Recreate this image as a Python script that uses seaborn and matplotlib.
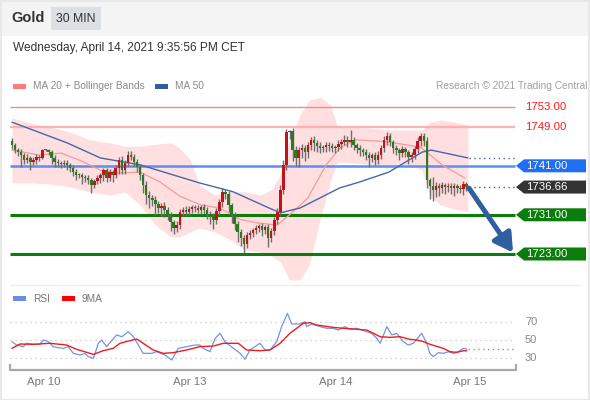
import numpy as np
import pandas as pd
import matplotlib
matplotlib.use("Agg")
import matplotlib.pyplot as plt
import seaborn as sns
from matplotlib.patches import Polygon, Rectangle

# ---------------- data ----------------
first_open = 1746.0
closes = [
    1745.2, 1744.2, 1743.8, 1743.2, 1742.2, 1742.6, 1741.8, 1742.2, 1742.8, 1742.6,
    1744.2, 1744.2, 1743.8, 1742.6, 1741.8, 1741.6, 1741.4, 1741.6, 1741.2, 1740.6,
    1739.7, 1739.1, 1739.1, 1738.7, 1738.5, 1738.1, 1737.1, 1737.9, 1738.5, 1739.1,
    1740.1, 1738.6, 1739.7, 1739.1, 1740.5, 1742.2, 1740.1, 1741.6, 1743.2, 1742.8,
    1741.8, 1740.8, 1739.1, 1737.1, 1735.0, 1734.4, 1734.0, 1733.2, 1732.4, 1732.8,
    1732.0, 1731.0, 1729.5, 1728.3, 1728.9, 1731.6, 1732.0, 1731.6, 1732.2, 1732.6,
    1732.4, 1732.0, 1732.6, 1732.0, 1731.2, 1730.8, 1730.0, 1731.8, 1733.6, 1735.6,
    1735.2, 1733.0, 1731.0, 1729.2, 1727.5, 1726.2, 1725.0, 1726.9, 1727.3, 1727.9,
    1728.3, 1728.7, 1727.9, 1728.5, 1726.3, 1727.6, 1729.9, 1731.6, 1736.1, 1741.2,
    1747.9, 1748.0, 1744.2, 1742.6, 1744.2, 1744.6, 1743.8, 1745.2, 1746.3, 1745.6,
    1745.0, 1744.6, 1744.8, 1745.2, 1745.0, 1744.6, 1744.8, 1745.4, 1745.9, 1746.3,
    1745.8, 1746.3, 1745.2, 1744.6, 1744.2, 1743.8, 1743.2, 1742.6, 1743.2, 1742.2,
    1743.2, 1744.6, 1746.3, 1747.0, 1745.8, 1744.6, 1744.2, 1743.6, 1744.4, 1743.8,
    1742.8, 1743.2, 1744.4, 1746.0, 1747.0, 1746.0, 1738.0, 1736.8, 1736.1, 1736.8,
    1736.4, 1737.0, 1736.6, 1736.9, 1736.4, 1736.9, 1736.5, 1736.2, 1737.3, 1736.66]
wick_hi = [
    .6, .5, .4, .6, .5, .8, .4, .5, .6, .4,
    .2, .2, .3, .4, .6, .5, .4, .6, .5, .4,
    .5, .6, .4, .5, .4, .6, .4, .5, .6, .5,
    .5, .4, .6, .5, .7, .5, .8, .6, .8, .9,
    .6, .5, .6, .5, .7, .8, .6, .9, .7, .6,
    .8, .5, .6, .5, .9, .6, .5, .7, .5, .4,
    .5, .6, .4, .6, .5, .5, .6, .5, .7, .8,
    .7, .6, .5, .6, .5, .6, .7, .5, .6, .5,
    .6, .5, .7, .5, .6, .7, .6, .8, .9, 1.0,
    .6, .4, .8, .9, .7, .8, .6, .7, .6, .8,
    .6, .8, .5, .7, .6, .7, .5, .8, .6, .9,
    .7, 2.0, .6, .5, .6, .5, .7, .6, .5, .6,
    .8, .7, .8, .9, .6, .5, .6, .5, .6, .5,
    .5, .6, .7, .8, .6, .6, .8, .6, 2.0, .8,
    .6, .7, .5, .6, .5, .6, .4, .6, .5, .4]
wick_lo = [
    .8, .6, .8, 2.4, .8, .6, 1.6, .7, .8, .6,
    .2, .2, .5, 1.2, 1.0, .8, .9, .7, 1.0, .8,
    .8, 1.0, .6, 1.4, .8, .9, 1.6, .7, .6, 1.0,
    1.2, .9, .8, 1.4, .6, 1.2, .8, .7, .6, .7,
    .8, 1.0, .9, 1.6, 1.8, 2.0, 1.2, 2.2, 1.0, 1.6,
    1.4, 1.0, 1.8, 1.2, .8, .9, .8, .9, .8, .9,
    .8, .7, .8, .9, 1.0, 1.6, 1.8, .9, .8, 1.0,
    1.0, 1.4, 1.6, 1.4, 2.0, 1.6, 1.8, .8, .9, .8,
    .9, .8, 1.2, .9, 1.8, .8, .8, .7, .6, .8,
    1.0, 1.5, 2.2, 1.6, 1.8, 1.6, 1.9, 1.2, 1.0, 1.6,
    1.2, 1.0, .8, .9, 1.0, .8, .9, .8, 1.0, .7,
    1.0, .9, 1.0, .9, 1.2, .8, 1.0, 1.8, .9, 1.1,
    .9, .8, .7, 1.0, .8, 1.0, .9, 1.4, .8, 1.0,
    1.4, 1.0, .9, .8, .9, 1.0, 1.6, 2.6, 2.2, 1.4,
    1.6, 1.0, 1.4, .9, 1.2, 1.6, 1.0, .8, 1.2, .8]

ma20_t = [0, 9, 16, 22, 29, 35, 42, 48.5, 55, 62, 68, 75, 81, 87, 91, 97, 103, 107.5, 112.5, 123, 134, 141, 148.5]
ma20_v = [1744.2, 1743.2, 1743.6, 1742.2, 1740.1, 1739.5, 1739.7, 1737.7, 1734.8, 1733.0, 1732.4, 1730.0,
          1729.3, 1728.9, 1731.0, 1734.4, 1741.2, 1744.6, 1746.3, 1745.9, 1744.8, 1741.2, 1738.5]

ma50_t = [0, 18, 29, 42, 61.5, 72.5, 83.5, 88, 94.5, 107.5, 114, 123.5, 134.5, 137.5, 149.5]
ma50_v = [1749.9, 1745.7, 1742.6, 1741.2, 1737.5, 1735.7, 1732.6, 1731.4, 1732.4, 1736.5, 1737.7,
          1739.7, 1743.8, 1744.2, 1742.6]

bb_t = [0, 6, 12.5, 19, 25.5, 32, 37, 42, 47, 52, 55, 58.5, 61.5, 66.5, 71.5, 76.5, 81.5, 85, 88,
        91, 94.5, 97.5, 101, 104.5, 106.5, 109, 117.5, 124, 130.5, 134.5, 137, 140.5, 145, 149.5]
bb_up = [1750.8, 1749.7, 1748.9, 1747.9, 1746.3, 1745.7, 1745.0, 1745.0, 1745.4, 1745.7, 1744.6,
         1742.2, 1737.1, 1735.0, 1735.7, 1735.7, 1735.0, 1736.1, 1739.1, 1746.3, 1751.4, 1754.4,
         1755.0, 1753.4, 1749.3, 1748.9, 1748.7, 1748.3, 1748.3, 1748.3, 1749.9, 1750.3, 1749.9, 1749.3]
bb_lo = [1737.5, 1737.5, 1737.3, 1736.7, 1735.7, 1735.0, 1735.7, 1733.0, 1728.9, 1726.5, 1726.5,
         1727.5, 1728.3, 1727.5, 1725.9, 1723.8, 1723.4, 1722.6, 1721.4, 1717.7, 1717.7, 1720.8,
         1729.9, 1738.1, 1741.6, 1741.8, 1741.2, 1741.2, 1741.2, 1740.1, 1735.0, 1733.0, 1732.2, 1731.6]

rsi_t = [0, 1.5, 3.7, 4.8, 7.0, 9.2, 10.3, 11.9, 13.5, 15.2, 16.8, 18.5, 20.1, 22.3, 23.9, 25.0,
         26.7, 28.3, 29.4, 31.0, 34.3, 36.0, 38.1, 39.8, 43.0, 45.8, 47.4, 50.2, 52.4, 54.5, 57.3,
         60.0, 61.6, 62.7, 64.9, 66.6, 68.2, 69.8, 72.6, 74.8, 76.4, 78.0, 81.3, 83.0, 84.6, 86.8,
         88.4, 90.3, 91.7, 94.4, 96.1, 96.6, 98.3, 101.0, 103.2, 105.3, 107.0, 109.2, 110.8, 113.0,
         114.7, 116.3, 117.9, 119.6, 120.7, 122.9, 124.5, 126.1, 128.3, 129.9, 131.6, 134.3, 136.0,
         137.0, 138.1, 139.8, 141.4, 143.1, 144.7, 146.3, 148.0, 149.1]
rsi_v = [48.2, 44.5, 42.7, 46.4, 45.3, 45.3, 50.0, 48.2, 42.7, 41.6, 40.9, 42.7, 35.4, 33.6, 35.4,
         31.8, 30.0, 46.4, 50.0, 42.7, 55.5, 53.6, 59.1, 53.6, 35.4, 35.4, 37.2, 33.6, 28.1, 40.9,
         42.7, 44.5, 44.5, 40.9, 37.2, 51.8, 57.3, 48.2, 40.9, 35.4, 28.9, 39.1, 46.4, 39.1, 39.1,
         48.2, 64.6, 79.1, 67.5, 67.5, 70.0, 64.6, 67.5, 64.6, 62.8, 62.8, 60.9, 64.6, 61.7, 62.8,
         60.9, 59.1, 57.3, 51.8, 46.4, 64.6, 55.5, 57.3, 48.2, 44.5, 46.4, 57.3, 46.4, 35.4, 31.8,
         36.2, 35.4, 37.2, 35.4, 37.2, 40.9, 40.2]
ma9_t = [0, 2.6, 7.0, 12.5, 17.9, 21.2, 26.7, 29.9, 33.2, 35.4, 38.7, 40.9, 43.0, 46.3, 49.6, 52.9,
         57.3, 61.6, 66.0, 69.3, 74.2, 76.9, 81.3, 84.6, 87.9, 91.1, 95.5, 97.7, 99.9, 105.3, 108.6,
         113.0, 116.3, 118.5, 120.7, 123.9, 127.2, 130.5, 132.7, 134.9, 137.0, 141.4, 143.6, 145.8,
         148.0, 149.1]
ma9_v = [40.9, 45.6, 45.3, 46.4, 44.5, 39.8, 34.3, 38.3, 40.9, 46.4, 49.3, 51.1, 46.4, 39.1, 35.4,
         36.2, 39.1, 42.7, 43.4, 46.4, 46.4, 39.1, 38.3, 39.1, 46.4, 57.3, 68.2, 68.9, 66.4, 63.8,
         62.8, 61.7, 60.9, 57.3, 53.6, 52.9, 53.6, 50.7, 50.0, 48.2, 45.3, 40.9, 37.2, 36.5, 38.3, 38.3]

resist_levels = [1753.00, 1749.00]
pivot_level = 1741.00
support_levels = [1731.00, 1723.00]
last_price = 1736.66
target_price = 1723.00
date_ticks_t = [10.5, 58.4, 106.2, 150.2]
date_ticks_lbl = ["Apr 10", "Apr 13", "Apr 14", "Apr 15"]
rsi_levels = [70, 50, 30]

# ---------------- style ----------------
sns.set_theme(style="white")
plt.rcParams["font.family"] = ["Liberation Sans", "DejaVu Sans"]

W, H = 590, 400
fig = plt.figure(figsize=(W / 100, H / 100), dpi=100)
fig.patch.set_facecolor("white")


def X(px):      # pixel column -> candle index
    return (px - 12) / 3.05


def P(py):      # pixel row -> price
    return 1753 - (py - 107) / 4.9


def R(py):      # pixel row -> RSI value
    return 50 - (py - 340) / 0.915


def fbox(x0, y0, x1, y1):
    return [x0 / W, 1 - y1 / H, (x1 - x0) / W, (y1 - y0) / H]


def ftxt(x, y, s, **kw):
    fig.text(x / W, 1 - y / H, s, **kw)


# header
fig.patches.append(Rectangle((0, 1 - 36 / H), 1, 36 / H, transform=fig.transFigure,
                             facecolor="#f4f4f4", edgecolor="none", zorder=0))
fig.patches.append(Rectangle((51 / W, 1 - 30 / H), 50 / W, 23 / H, transform=fig.transFigure,
                             facecolor="#dcdfe3", edgecolor="none", zorder=1))
fig.patches.append(Rectangle((0.5 / W, 0.5 / H), (W - 1.5) / W, (H - 1.5) / H, transform=fig.transFigure,
                             facecolor="none", edgecolor="#e6e8ea", lw=1.5, zorder=10))
ftxt(11, 18.5, "Gold", fontsize=10.5, fontweight="bold", color="#333333", va="center")
ftxt(76, 18.5, "30 MIN", fontsize=8.8, color="#333333", va="center", ha="center")
ftxt(13, 48, "Wednesday, April 14, 2021 9:35:56 PM CET", fontsize=8.6, color="#333333", va="center")

# legend row
fig.patches.append(Rectangle((13 / W, 1 - 88.5 / H), 13 / W, 5 / H, transform=fig.transFigure,
                             facecolor="#ff7b7b", edgecolor="none"))
fig.patches.append(Rectangle((155 / W, 1 - 88.5 / H), 13 / W, 5 / H, transform=fig.transFigure,
                             facecolor="#2f5e9e", edgecolor="none"))
ftxt(33, 86, "MA 20 + Bollinger Bands", fontsize=7.3, color="#8a8a8a", va="center")
ftxt(175, 86, "MA 50", fontsize=7.3, color="#8a8a8a", va="center")
ftxt(587, 86, "Research \u00a9 2021 Trading Central", fontsize=7.3, color="#a0a0a0", va="center", ha="right")

# ---------------- main price panel ----------------
ax = fig.add_axes(fbox(0, 90, W, 284))
ax.set_xlim(X(0), X(W))
ax.set_ylim(P(284), P(90))
ax.axis("off")

ax.fill_between(bb_t, bb_lo, bb_up, color="#ffdfdf", lw=0, zorder=1)

x0, x1 = X(10), X(515)
ax.hlines(resist_levels[0], x0, x1, color="#f08a8a", lw=1.0, zorder=2)
ax.hlines(resist_levels[1], x0, x1, color="#ffb0b0", lw=1.6, zorder=2)
ax.hlines(pivot_level, x0, x1, color="#5b8ff0", lw=1.8, zorder=2)
for lv in support_levels:
    ax.hlines(lv, x0, x1, color="#0a7d0a", lw=2.2, zorder=2)

sns.lineplot(x=ma20_t, y=ma20_v, ax=ax, color="#f59a9a", lw=0.9, zorder=3)
sns.lineplot(x=ma50_t, y=ma50_v, ax=ax, color="#4169aa", lw=1.0, zorder=3)

# candles
c = np.array(closes)
o = np.array([first_open] + closes[:-1])
hi = np.maximum(o, c) + np.array(wick_hi)
lo = np.minimum(o, c) - np.array(wick_lo)
idx = np.arange(len(c))
cols = np.where(c > o, "#c8101a", "#2a7a1e")
ax.vlines(idx, lo, hi, color="#6e6e6e", lw=1.0, zorder=4)
body = np.maximum(np.abs(c - o), 0.2)
ax.bar(idx, body, bottom=np.minimum(o, c), width=0.8, color=cols, lw=0, zorder=5)

# dotted extensions to the labels
last_i = idx[-1]
ax.hlines(ma50_v[-1], last_i + 1, X(515), color="#4169aa", lw=1, linestyles=(0, (1, 2.5)), zorder=3)
ax.hlines(last_price, last_i + 1, X(515), color="#555555", lw=1, linestyles=(0, (1, 2.5)), zorder=3)

# price labels
for lv in resist_levels:
    ax.text(X(525), lv, f"{lv:.2f}", color="#ff1a1a", fontsize=8.2, va="center", ha="left")

half = 6.5 / 4.9


def tag(v, color):
    verts = [(X(516), v), (X(524), v + half), (X(586), v + half), (X(586), v - half), (X(524), v - half)]
    ax.add_patch(Polygon(verts, closed=True, facecolor=color, edgecolor="none", zorder=6, clip_on=False))
    ax.text(X(526), v - 0.05, f"{v:.2f}", color="white", fontsize=8.2, va="center", ha="left", zorder=7)


tag(pivot_level, "#1f6ff2")
tag(last_price, "#333333")
for lv in support_levels:
    tag(lv, "#0a7d0a")

ax.annotate("", xy=(X(513), target_price + 0.3), xytext=(last_i + 0.8, last_price - 0.2),
            arrowprops=dict(arrowstyle="-|>,head_length=0.55,head_width=0.32", lw=3.6,
                            color="#2f5f9f", mutation_scale=20, shrinkA=0, shrinkB=0), zorder=6)

# separator
fig.add_artist(plt.Line2D([10 / W, 580 / W], [1 - 284.5 / H, 1 - 284.5 / H], color="#eeeeee", lw=1))

# ---------------- RSI panel ----------------
rax = fig.add_axes(fbox(0, 286, W, 370))
rax.set_xlim(X(0), X(W))
rax.set_ylim(R(370), R(286))
rax.axis("off")

for lv in rsi_levels:
    rax.hlines(lv, X(10), X(515), color="#c4c4c4", lw=0.9, linestyles=(0, (1, 3)))
    rax.text(X(525), lv, f"{lv}", color="#888888", fontsize=8, va="center", ha="left")

sns.lineplot(x=rsi_t, y=rsi_v, ax=rax, color="#7393ea", lw=0.9, zorder=3)
sns.lineplot(x=ma9_t, y=ma9_v, ax=rax, color="#f01c1c", lw=1.0, zorder=4)
rax.hlines(rsi_v[-1], rsi_t[-1] + 0.5, X(515), color="#7393ea", lw=1, linestyles=(0, (1, 2.5)))

rax.plot([X(10), X(10), X(516), X(516)], [R(364), R(370), R(370), R(364)],
         color="#a8a8a8", lw=1.6, clip_on=False, solid_capstyle="butt")
for t, lbl in zip(date_ticks_t, date_ticks_lbl):
    rax.text(t, R(382), lbl, color="#777777", fontsize=8.2, va="center", ha="center", clip_on=False)

fig.patches.append(Rectangle((13 / W, 1 - 300.5 / H), 13 / W, 5 / H, transform=fig.transFigure,
                             facecolor="#6a8ee8", edgecolor="none"))
fig.patches.append(Rectangle((62 / W, 1 - 300.5 / H), 13 / W, 5 / H, transform=fig.transFigure,
                             facecolor="#ff0000", edgecolor="none"))
ftxt(33, 298.5, "RSI", fontsize=7.3, color="#777777", va="center")
ftxt(82, 298.5, "9MA", fontsize=7.3, color="#777777", va="center")

fig.savefig("out.png", dpi=100, facecolor="white")
